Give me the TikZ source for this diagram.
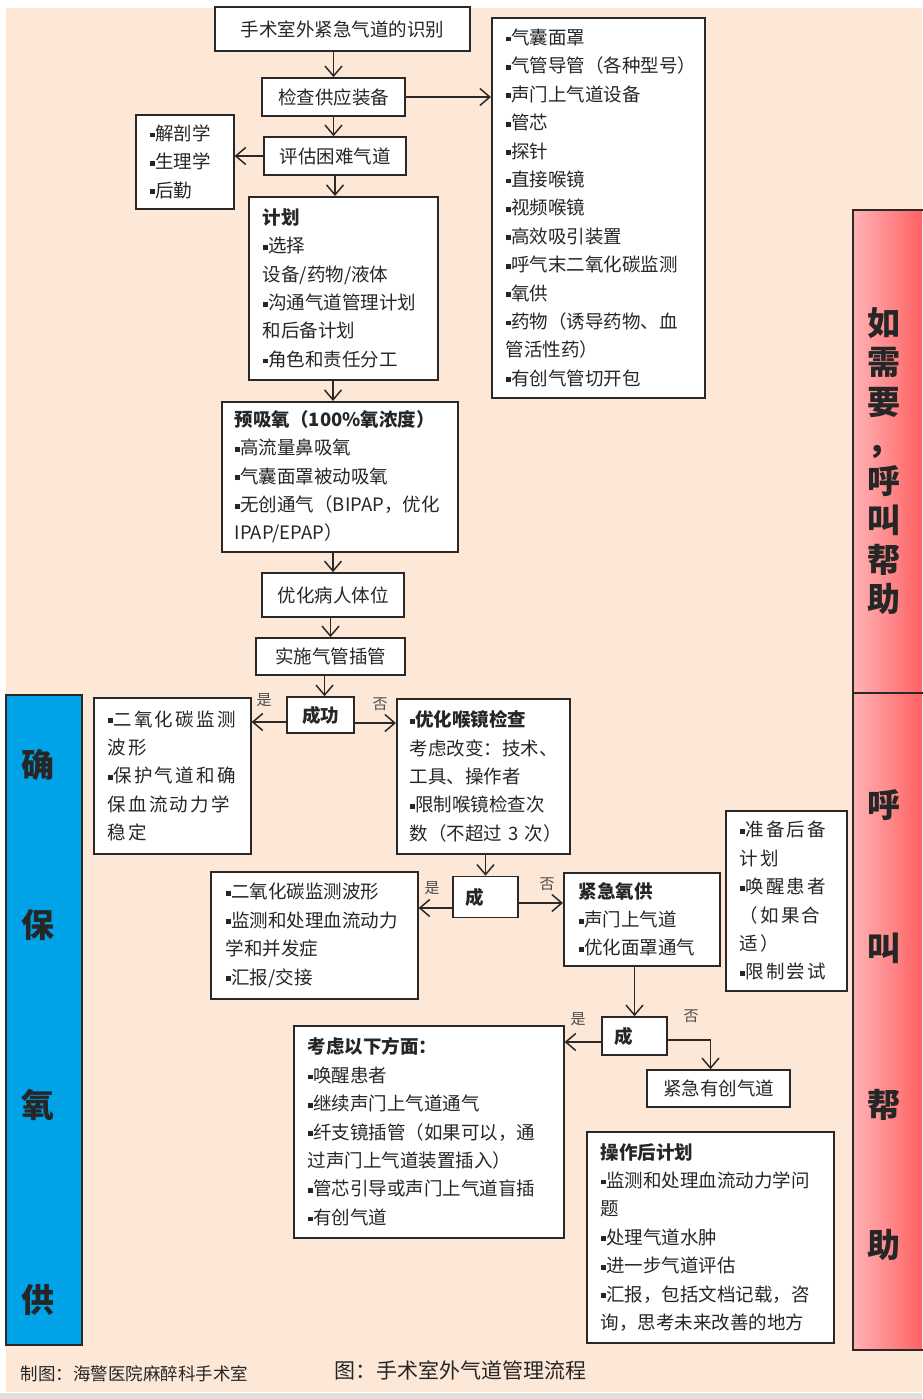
\documentclass[tikz,border=0pt]{standalone}
\usepackage{fontspec}
\setmainfont{Noto Sans CJK SC}
\usepackage{xcolor}
\usetikzlibrary{arrows.meta,positioning,calc}

\definecolor{bgpeach}{RGB}{253,232,216}
\definecolor{barblue}{RGB}{0,162,232}
\definecolor{pinkL}{RGB}{255,178,182}
\definecolor{pinkR}{RGB}{255,98,98}
\definecolor{linegray}{RGB}{45,40,40}

% small square bullet
\newcommand{\sqb}{\raisebox{3pt}{\rule{4.8pt}{4.8pt}}\kern0.8pt}

\begin{document}
\begin{tikzpicture}[
  x=1pt, y=-1pt,
  >={Straight Barb[length=10pt,width=17pt,line width=1.5pt]},
  box/.style={draw=linegray, line width=1.6pt, fill=white, text=black!85,
    font=\fontsize{18.5}{28.4}\selectfont},
  listbox/.style={box, anchor=north west, align=left, inner xsep=14pt, inner ysep=0pt},
  okbox/.style={box, align=left, inner xsep=12pt, text width=41pt, font=\fontsize{18.5}{28.4}\selectfont\bfseries},
  flow/.style={->, draw=linegray, line width=1.6pt},
  yn/.style={font=\fontsize{15}{15}\selectfont, text=black!70},
  bartxt/.style={inner sep=0pt, font=\fontsize{33}{33}\selectfont\bfseries, text=black!85},
]
\useasboundingbox (0,0) rectangle (922,1399);
\fill[white] (0,0) rectangle (922,1399);
\fill[bgpeach] (6,8) rectangle (922,1392);
\fill[black!12] (0,1393) rectangle (922,1399);

% Side bars
\draw[fill=barblue, draw=linegray, line width=1.4pt] (6,695) rectangle (82,1345);
\shade[left color=pinkL, right color=pinkR] (853,210) rectangle (922,1350);
\draw[linegray, line width=1.4pt] (926,210) -- (853,210) -- (853,1350) -- (926,1350);
\draw[linegray, line width=1.4pt] (853,693) -- (926,693);

\foreach \ch/\yy [count=\i] in {确/765, 保/925, 氧/1105, 供/1300}
  \node[bartxt] (ensure\i) at (38,\yy) {\ch};
\node[bartxt, align=center, font=\fontsize{33}{39.5}\selectfont\bfseries] (ifneed) at (884,461)
  {如\\需\\要\\，\\呼\\叫\\帮\\助};
\foreach \ch/\yy [count=\i] in {呼/805, 叫/948, 帮/1105, 助/1245}
  \node[bartxt] (callhelp\i) at (884,\yy) {\ch};

% Main column
\node[box, minimum width=255pt, minimum height=44pt] (recog) at (342.5,29) {手术室外紧急气道的识别};
\node[box, minimum width=143pt, minimum height=38pt] (check) at (333.5,97) {检查供应装备};
\node[box, minimum width=142pt, minimum height=38pt] (assess) at (335,156) {评估困难气道};

\node[listbox, text width=185pt, minimum height=380pt, inner xsep=14pt] (equip) at (491,17) {%
  \sqb 气囊面罩\\
  \sqb 气管导管（各种型号）\\
  \sqb 声门上气道设备\\
  \sqb 管芯\\
  \sqb 探针\\
  \sqb 直接喉镜\\
  \sqb 视频喉镜\\
  \sqb 高效吸引装置\\
  \sqb 呼气末二氧化碳监测\\
  \sqb 氧供\\
  \sqb 药物（诱导药物、血\\
  管活性药）\\
  \sqb 有创气管切开包};

\node[listbox, text width=70pt, minimum height=94pt, inner xsep=14pt] (anat) at (135,114) {%
  \sqb 解剖学\\
  \sqb 生理学\\
  \sqb 后勤};

\node[listbox, text width=161pt, minimum height=183pt] (plan) at (248,196) {%
  \textbf{计划}\\
  \sqb 选择\\
  设备/药物/液体\\
  \sqb 沟通气道管理计划\\
  和后备计划\\
  \sqb 角色和责任分工};

\node[listbox, text width=210pt, minimum height=150pt, inner xsep=13pt] (preox) at (221,401) {%
  \textbf{预吸氧（100\%氧浓度）}\\
  \sqb 高流量鼻吸氧\\
  \sqb 气囊面罩被动吸氧\\
  \sqb 无创通气（BIPAP，优化\\
  IPAP/EPAP）};

\node[box, minimum width=142pt, minimum height=44pt] (posit) at (333,595) {优化病人体位};
\node[box, minimum width=149pt, minimum height=37pt] (intub) at (330.5,656.5) {实施气管插管};

% Decisions
\node[box, minimum width=67pt, minimum height=36pt, font=\fontsize{18.5}{28.4}\selectfont\bfseries] (ok1) at (320.5,715) {成功};
\node[okbox, minimum height=41pt] (ok2) at (485.5,897) {成};
\node[okbox, minimum height=38pt] (ok3) at (634.5,1036) {成};

\node[listbox, text width=129pt, minimum height=156pt,
  font=\fontsize{18.5}{28.4}\selectfont\addfontfeature{LetterSpace=12}] (yes1) at (93,697) {%
  \sqb 二氧化碳监测\\
  波形\\
  \sqb 保护气道和确\\
  保血流动力学\\
  稳定};

\node[listbox, text width=147pt, minimum height=155pt, inner xsep=13pt] (optim) at (396,698) {%
  \textbf{\sqb 优化喉镜检查}\\
  考虑改变：技术、\\
  工具、操作者\\
  \sqb 限制喉镜检查次\\
  数（不超过~3~次）};

\node[listbox, text width=177pt, minimum height=127pt, inner xsep=15pt] (yes2) at (210,871) {%
  \sqb 二氧化碳监测波形\\
  \sqb 监测和处理血流动力\\
  学和并发症\\
  \sqb 汇报/交接};

\node[listbox, text width=126pt, minimum height=93pt, inner xsep=15pt] (emox) at (563,872) {%
  \textbf{紧急氧供}\\
  \sqb 声门上气道\\
  \sqb 优化面罩通气};

\node[listbox, text width=93pt, minimum height=180pt, inner xsep=14pt,
  font=\fontsize{18.5}{28.4}\selectfont\addfontfeature{LetterSpace=12}] (backup) at (725,810) {%
  \sqb 准备后备\\
  计划\\
  \sqb 唤醒患者\\
  （如果合\\
  适）\\
  \sqb 限制尝试};

\node[box, minimum width=143pt, minimum height=37pt] (surg) at (718.5,1088.5) {紧急有创气道};

\node[listbox, text width=242pt, minimum height=212pt] (consider) at (293,1025) {%
  \textbf{考虑以下方面：}\\
  \sqb 唤醒患者\\
  \sqb 继续声门上气道通气\\
  \sqb 纤支镜插管（如果可以，通\\
  过声门上气道装置插入）\\
  \sqb 管芯引导或声门上气道盲插\\
  \sqb 有创气道};

\node[listbox, text width=219pt, minimum height=211pt] (postop) at (586,1131) {%
  \textbf{操作后计划}\\
  \sqb 监测和处理血流动力学问\\
  题\\
  \sqb 处理气道水肿\\
  \sqb 进一步气道评估\\
  \sqb 汇报，包括文档记载，咨\\
  询，思考未来改善的地方};

% Connectors
\draw[flow] (check.north |- recog.south) -- (check.north);
\draw[flow] (check.east) -- (check.east -| equip.west);
\draw[flow] (check.south) -- (check.south |- assess.north);
\draw[flow] (assess.west) -- (assess.west -| anat.east);
\draw[flow] (assess.south) -- (assess.south |- plan.north);
\draw[flow] (posit.north |- plan.south) -- (posit.north |- preox.north);
\draw[flow] (posit.north |- preox.south) -- (posit.north);
\draw[flow] (intub.north |- posit.south) -- (intub.north);
\coordinate (in1) at ([xshift=4pt]ok1.north);
\draw[flow] (in1 |- intub.south) -- (in1);

\coordinate (ok1l) at ([yshift=-7pt]ok1.west);
\coordinate (ok1r) at ([yshift=-8pt]ok1.east);
\draw[flow] (ok1l) -- (ok1l -| yes1.east);
\draw[flow] (ok1r) -- (ok1r -| optim.west);
\draw[flow] (ok2.north |- optim.south) -- (ok2.north);

\coordinate (ok2l) at ([yshift=-11pt]ok2.west);
\coordinate (ok2r) at ([yshift=-6pt]ok2.east);
\draw[flow] (ok2l) -- (ok2l -| yes2.east);
\draw[flow] (ok2r) -- (ok2r -| emox.west);
\draw[flow] (ok3.north |- emox.south) -- (ok3.north);

\coordinate (ok3l) at ([yshift=-6pt]ok3.west);
\coordinate (ok3r) at ([yshift=-4pt]ok3.east);
\coordinate (surgin) at ([xshift=-8pt]surg.north);
\draw[flow] (ok3l) -- (ok3l -| consider.east);
\draw[flow] (ok3r) -| (surgin);

% Yes / no labels
\node[yn] (y1) at (264,700) {是};
\node[yn] (n1) at (380,704) {否};
\node[yn] (y2) at (432,888) {是};
\node[yn] (n2) at (547,884) {否};
\node[yn] (y3) at (578,1019) {是};
\node[yn] (n3) at (691,1016) {否};

% Footer
\node[anchor=west, font=\fontsize{17.5}{17.5}\selectfont, text=black!85] (credit) at (17,1374) {制图：海警医院麻醉科手术室};
\node[anchor=west, font=\fontsize{21}{21}\selectfont, text=black!85] (caption) at (331,1370) {图：手术室外气道管理流程};
\end{tikzpicture}
\end{document}
